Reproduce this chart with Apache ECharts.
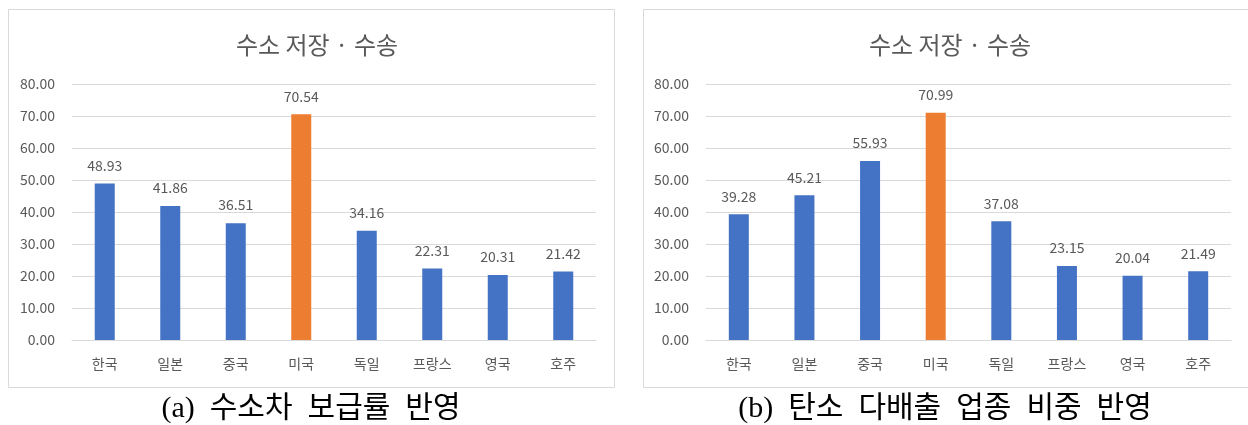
<!DOCTYPE html>
<html>
<head>
<meta charset="utf-8">
<script src="https://cdn.jsdelivr.net/npm/echarts@6/dist/echarts.min.js"></script>
<style>
  html, body { margin: 0; padding: 0; background: #fff; }
  #main { width: 1248px; height: 425px; }
</style>
</head>
<body>
<div id="main"></div>
<script>
// 데이터
var countries = ['한국', '일본', '중국', '미국', '독일', '프랑스', '영국', '호주'];
var valuesA = [48.93, 41.86, 36.51, 70.54, 34.16, 22.31, 20.31, 21.42];
var valuesB = [39.28, 45.21, 55.93, 70.99, 37.08, 23.15, 20.04, 21.49];
var yTicks = [0, 10, 20, 30, 40, 50, 60, 70, 80];
var chartTitle = '수소 저장 · 수송';
var captionA = '(a)  수소차  보급률  반영';
var captionB = '(b)  탄소  다배출  업종  비중  반영';
var highlight = '미국';

var FONT = '"Noto Sans CJK KR", "Noto Sans", sans-serif';
var BLUE = '#4472C4', ORANGE = '#ED7D31', GRID = '#d9d9d9', TXT = '#595959';

function barData(vals) {
    return vals.map(function (v, i) {
        return { value: v, itemStyle: { color: countries[i] === highlight ? ORANGE : BLUE } };
    });
}

function xAx(idx) {
    return {
        type: 'category', gridIndex: idx, data: countries,
        axisLine: { lineStyle: { color: GRID } },
        axisTick: { show: false },
        axisLabel: { color: TXT, fontSize: 14, fontFamily: FONT, margin: 17 }
    };
}
function yAx(idx) {
    return {
        type: 'value', gridIndex: idx,
        min: yTicks[0], max: yTicks[yTicks.length - 1], interval: yTicks[1] - yTicks[0],
        axisLine: { show: false }, axisTick: { show: false },
        splitLine: { lineStyle: { color: GRID } },
        axisLabel: { color: TXT, fontSize: 14, fontFamily: FONT, margin: 17,
            formatter: function (v) { return v.toFixed(2); } }
    };
}
function bars(idx, vals) {
    return {
        type: 'bar', xAxisIndex: idx, yAxisIndex: idx, barWidth: 20,
        data: barData(vals),
        label: { show: true, position: 'top', distance: 11, color: TXT, fontSize: 14, fontFamily: FONT,
            formatter: function (p) { return p.value.toFixed(2); } }
    };
}

var chart = echarts.init(document.getElementById('main'));
var option = {
    animation: false,
    backgroundColor: '#fff',
    title: [
        { text: chartTitle, left: 312, top: 28, textAlign: 'center',
          textStyle: { color: TXT, fontSize: 24, fontWeight: 'normal', fontFamily: FONT } },
        { text: chartTitle, left: 945, top: 28, textAlign: 'center',
          textStyle: { color: TXT, fontSize: 24, fontWeight: 'normal', fontFamily: FONT } }
    ],
    grid: [
        { left: 72, right: 652, top: 84, bottom: 85 },
        { left: 706, right: 17, top: 84, bottom: 85 }
    ],
    xAxis: [xAx(0), xAx(1)],
    yAxis: [yAx(0), yAx(1)],
    series: [bars(0, valuesA), bars(1, valuesB)],
    graphic: [
        { type: 'rect', shape: { x: 8.5, y: 9.5, width: 606, height: 378 },
          style: { fill: 'none', stroke: GRID, lineWidth: 1 }, z: -1 },
        { type: 'rect', shape: { x: 643.5, y: 9.5, width: 612, height: 378 },
          style: { fill: 'none', stroke: GRID, lineWidth: 1 }, z: -1 },
        { type: 'text', x: 311, y: 409,
          style: { text: captionA, textAlign: 'center', textVerticalAlign: 'middle',
                   font: '30px "Liberation Serif", "Noto Sans CJK KR", serif', fill: '#000' } },
        { type: 'text', x: 945, y: 409,
          style: { text: captionB, textAlign: 'center', textVerticalAlign: 'middle',
                   font: '30px "Liberation Serif", "Noto Sans CJK KR", serif', fill: '#000' } }
    ]
};
chart.setOption(option);
</script>
</body>
</html>
